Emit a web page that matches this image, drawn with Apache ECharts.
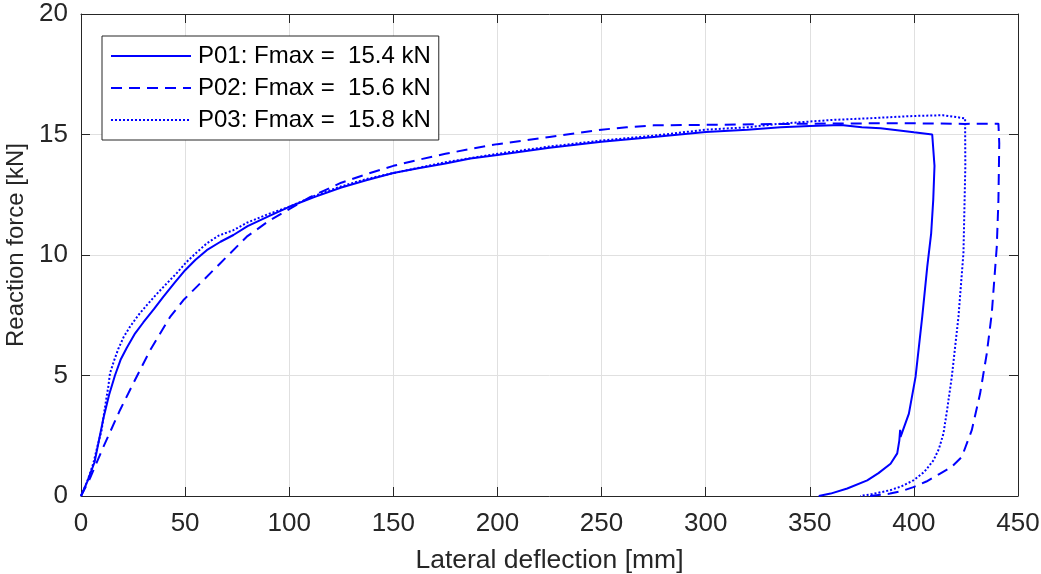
<!DOCTYPE html>
<html>
<head>
<meta charset="utf-8">
<script src="https://cdn.jsdelivr.net/npm/echarts@6/dist/echarts.min.js"></script>
<style>
html,body{margin:0;padding:0;background:#fff;}
#chart{width:1041px;height:574px;}
</style>
</head>
<body>
<div id="chart"></div>
<script>
// ---- data ----
const seriesNames = ['P01: Fmax =  15.4 kN', 'P02: Fmax =  15.6 kN', 'P03: Fmax =  15.8 kN'];
const xTicks = [0, 50, 100, 150, 200, 250, 300, 350, 400, 450];
const yTicks = [0, 5, 10, 15, 20];

const p01 = [[0,0],[3,0.6],[6.5,1.4],[10.7,3.2],[13.5,4.2],[16.3,5.0],[19,5.65],[22,6.15],[26,6.75],[29.9,7.2],[35,7.75],[39.5,8.26],[45,8.85],[50,9.37],[55,9.8],[60.4,10.2],[67,10.55],[73.2,10.83],[80,11.2],[90,11.6],[100,12.0],[112,12.4],[125,12.8],[137,13.1],[150,13.4],[162,13.6],[175,13.8],[187,14.0],[200,14.15],[225,14.45],[250,14.7],[275,14.9],[300,15.1],[320,15.2],[336,15.3],[350,15.35],[365,15.39],[375,15.3],[384,15.26],[400,15.09],[408.8,15.0],[409.9,13.7],[409.3,12.3],[408.3,10.9],[406.4,9.5],[404,7.43],[400.8,4.94],[397.6,3.42],[393.6,2.45],[393.4,2.75],[393.0,2.3],[392,1.77],[388.8,1.34],[383,0.95],[377.6,0.65],[368,0.31],[360,0.1],[354.3,0]];

const p02 = [[0,0],[4.3,0.73],[10.7,2.03],[18.7,3.56],[25.1,4.67],[33.2,6.05],[42.8,7.43],[49.2,8.13],[57.2,8.82],[66.8,9.65],[79.6,10.76],[90,11.4],[100,11.9],[110,12.4],[125,13.0],[137,13.35],[150,13.7],[162,13.95],[175,14.2],[187,14.4],[200,14.6],[225,14.9],[250,15.2],[262,15.3],[275,15.38],[300,15.4],[350,15.45],[393.6,15.47],[424.6,15.44],[440.6,15.45],[441,14.63],[440.6,12.28],[439.8,10.34],[437.4,7.57],[435,5.91],[431.8,4.25],[427.8,2.73],[423,1.62],[418,1.2],[412.6,0.93],[406,0.6],[399.8,0.37],[394,0.2],[388.6,0.1],[379,0]];

const p03 = [[0,0],[3,0.6],[5.9,1.35],[8,2.1],[9.9,2.73],[11.2,3.5],[12.3,4.11],[13.1,4.53],[13.5,4.6],[13.9,5.08],[15.8,5.6],[17.9,6.1],[20.5,6.6],[23.5,7.02],[27.5,7.5],[31.6,7.92],[36,8.35],[41.2,8.82],[46,9.25],[50.8,9.72],[55.5,10.1],[60.4,10.48],[66,10.8],[73.2,11.03],[80,11.35],[90,11.7],[100,12.0],[112,12.45],[125,12.85],[137,13.15],[150,13.4],[175,13.85],[200,14.2],[225,14.5],[250,14.75],[275,14.95],[300,15.2],[320,15.3],[336,15.45],[360,15.6],[380,15.68],[400,15.77],[414,15.8],[424.6,15.67],[424.7,13.66],[423.8,10.08],[421.4,7.43],[418.2,4.94],[416,3.6],[414.2,2.59],[412,1.95],[409.4,1.48],[405,1.0],[399.8,0.65],[394,0.4],[388.6,0.24],[380,0.08],[374.2,0]];

// ---- chart ----
const FONT = "'Liberation Sans', Arial, Helvetica, sans-serif";
const AXC = '#262626';
const BLUE = '#0000ff';
const xMin = xTicks[0], xMax = xTicks[xTicks.length-1], xInt = xTicks[1]-xTicks[0];
const yMin = yTicks[0], yMax = yTicks[yTicks.length-1], yInt = yTicks[1]-yTicks[0];

function valueAxis(min, max, interval, extra) {
  return Object.assign({
    type: 'value', min: min, max: max, interval: interval,
    axisLine: { show: true, onZero: false, lineStyle: { color: AXC, width: 1 } },
    axisTick: { show: true, inside: true, length: 9, lineStyle: { color: AXC, width: 1 } },
    splitLine: { show: false },
    axisLabel: { show: false }
  }, extra);
}

const chart = echarts.init(document.getElementById('chart'), null, { renderer: 'canvas' });
chart.setOption({
  animation: false,
  backgroundColor: '#ffffff',
  grid: { left: 81, right: 23, top: 14, bottom: 78, containLabel: false, outerBoundsMode: 'none' },
  legend: {
    orient: 'vertical', left: 102, top: 36,
    itemWidth: 80, itemHeight: 14, itemGap: 8,
    padding: [8, 8, 8, 8],
    borderColor: AXC, borderWidth: 1, backgroundColor: '#ffffff',
    itemStyle: { color: 'transparent', borderWidth: 0, opacity: 0 },
    textStyle: { fontFamily: FONT, fontSize: 24, color: '#000000', padding: [0, 0, 0, 2] },
    data: seriesNames
  },
  xAxis: [
    valueAxis(xMin, xMax, xInt, {
      position: 'bottom',
      name: 'Lateral deflection [mm]', nameLocation: 'middle', nameGap: 51,
      nameTextStyle: { fontFamily: FONT, fontSize: 26.5, color: AXC },
      axisLabel: { show: true, margin: 15, fontFamily: FONT, fontSize: 26, color: AXC },
      splitLine: { show: true, lineStyle: { color: '#e0e0e0', width: 1 } }
    }),
    valueAxis(xMin, xMax, xInt, { position: 'top' })
  ],
  yAxis: [
    valueAxis(yMin, yMax, yInt, {
      position: 'left',
      name: 'Reaction force [kN]', nameLocation: 'middle', nameGap: 43,
      nameTextStyle: { fontFamily: FONT, fontSize: 24, color: AXC, padding: [0, 0, 0, 20] },
      axisLabel: { show: true, margin: 13, fontFamily: FONT, fontSize: 26, color: AXC },
      splitLine: { show: true, lineStyle: { color: '#e0e0e0', width: 1 } }
    }),
    valueAxis(yMin, yMax, yInt, { position: 'right' })
  ],
  series: [
    { name: seriesNames[0], type: 'line', data: p01, symbol: 'none', showSymbol: false,
      lineStyle: { color: BLUE, width: 2, type: 'solid' }, itemStyle: { color: BLUE }, z: 3 },
    { name: seriesNames[1], type: 'line', data: p02, symbol: 'none', showSymbol: false,
      lineStyle: { color: BLUE, width: 2, type: [11, 7] }, itemStyle: { color: BLUE }, z: 3 },
    { name: seriesNames[2], type: 'line', data: p03, symbol: 'none', showSymbol: false,
      lineStyle: { color: BLUE, width: 2, type: [2, 2] }, itemStyle: { color: BLUE }, z: 3 }
  ]
});
</script>
</body>
</html>
